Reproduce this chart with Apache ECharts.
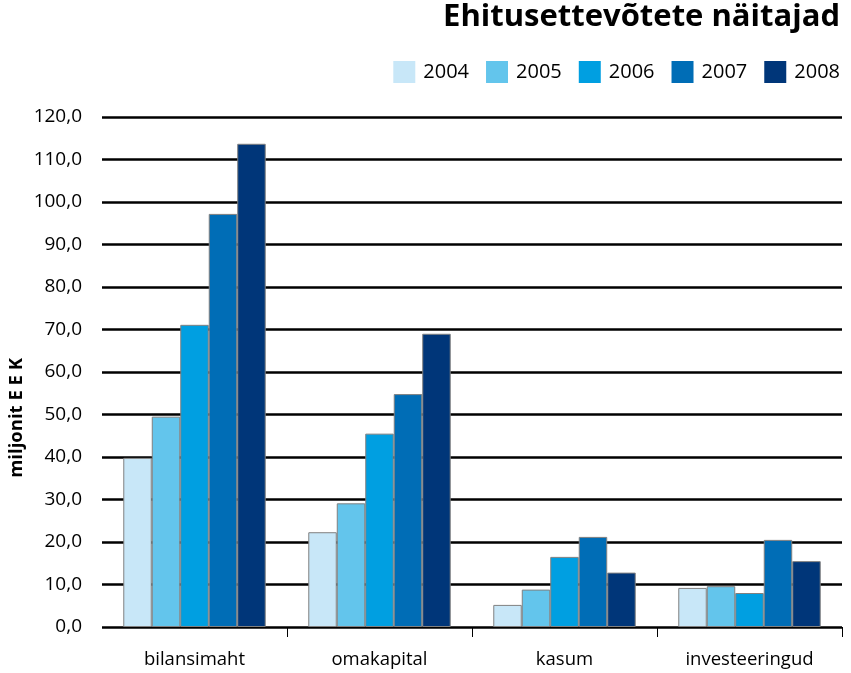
<!DOCTYPE html>
<html>
<head>
<meta charset="utf-8">
<script src="https://cdn.jsdelivr.net/npm/echarts@6/dist/echarts.min.js"></script>
<style>
  html, body { margin: 0; padding: 0; background: #fff; }
  #chart { width: 851px; height: 673px; }
</style>
</head>
<body>
<div id="chart"></div>
<script>
// andmed
const categories = ['bilansimaht', 'omakapital', 'kasum', 'investeeringud']
const years = ['2004', '2005', '2006', '2007', '2008']
const values2004 = [39.8, 22.3, 5.2, 9.2]
const values2005 = [49.5, 29.1, 8.8, 9.6]
const values2006 = [71.1, 45.5, 16.5, 8.0]
const values2007 = [97.2, 54.8, 21.2, 20.5]
const values2008 = [113.7, 69.0, 12.8, 15.5]
const colors = ['#c8e7f8', '#63c5ec', '#009fe1', '#006db6', '#003679']

const seriesValues = [values2004, values2005, values2006, values2007, values2008]
const font = '"Open Sans", "DejaVu Sans", sans-serif'

const chart = echarts.init(document.getElementById('chart'))

const option = {
  animation: false,
  textStyle: { fontFamily: font },
  title: {
    text: 'Ehitusettevõtete näitajad',
    right: 6,
    top: -3,
    textStyle: { fontSize: 31, fontWeight: 'bold', color: '#000', fontFamily: font }
  },
  legend: {
    data: years,
    right: 6,
    top: 56,
    itemWidth: 22,
    itemHeight: 22,
    itemGap: 17,
    icon: 'rect',
    itemStyle: { borderWidth: 0 },
    textStyle: { fontSize: 20, color: '#000', padding: [0, 0, 0, 3] }
  },
  grid: { left: 102, right: 9, top: 117, bottom: 46 },
  xAxis: {
    type: 'category',
    data: categories,
    axisLine: { show: false },
    axisTick: {
      show: true,
      length: 10,
      interval: (idx) => idx > 0,
      lineStyle: { color: '#000', width: 1 }
    },
    axisLabel: { fontSize: 18.5, color: '#000', margin: 23 }
  },
  yAxis: {
    type: 'value',
    min: 0,
    max: 120,
    interval: 10,
    axisLine: { show: false },
    axisTick: { show: false },
    axisLabel: {
      fontSize: 19,
      color: '#000',
      margin: 20,
      formatter: (v) => v.toFixed(1).replace('.', ',')
    },
    splitLine: { lineStyle: { color: '#000', width: 2.5 } }
  },
  graphic: [{
    type: 'text',
    left: 7,
    top: 358,
    rotation: Math.PI / 2,
    style: {
      text: 'miljonit E E K',
      fontSize: 18.5,
      fontWeight: 'bold',
      fill: '#000',
      fontFamily: font
    }
  }],
  series: years.map((y, i) => ({
    name: y,
    type: 'bar',
    data: seriesValues[i],
    barGap: '0%',
    barCategoryGap: '23%',
    itemStyle: { color: colors[i], borderColor: '#808080', borderWidth: 1 }
  }))
}

chart.setOption(option)
</script>
</body>
</html>
